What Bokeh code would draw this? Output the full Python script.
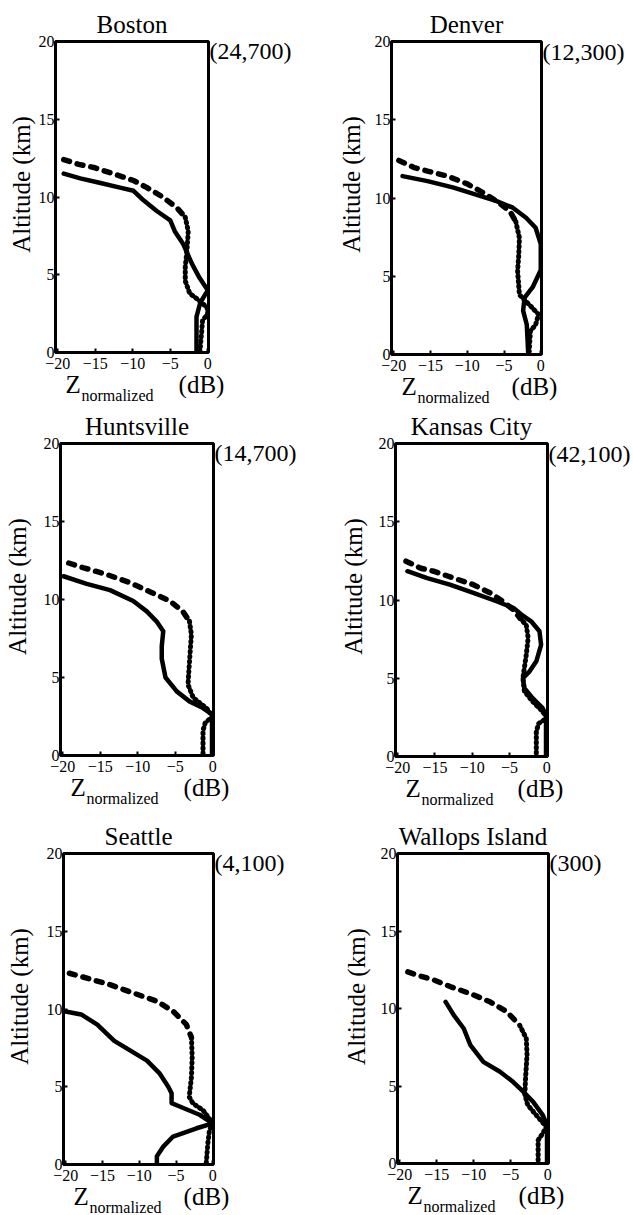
from bokeh.plotting import figure
from bokeh.models import Range1d, FixedTicker, LinearAxis
from bokeh.layouts import column, row
from bokeh.embed import file_html
from bokeh.resources import INLINE

FONT = "Liberation Serif"

cities = ["Boston", "Denver", "Huntsville", "Kansas City", "Seattle", "Wallops Island"]
counts = ["(24,700)", "(12,300)", "(14,700)", "(42,100)", "(4,100)", "(300)"]
x_ticks = [-20, -15, -10, -5, 0]
y_ticks = [0, 5, 10, 15, 20]
y_title = "Altitude (km)"
x_title = ["Z", "normalized", "(dB)"]

# ---- data: Z normalized (dB) vs altitude (km) ----
boston_solid_z = [-19.2, -17.0, -14.3, -11.7, -9.9, -8.6, -6.8, -5.0, -4.4, -3.3, -2.1, -1.1, 0.0, -1.0, -1.5, -1.5, -1.5]
boston_solid_alt = [11.5, 11.2, 10.9, 10.6, 10.4, 9.8, 9.1, 8.5, 7.8, 7.0, 5.7, 4.8, 4.0, 3.2, 2.3, 1.0, 0.0]
boston_dash_z = [-19.2, -17.2, -15.2, -12.6, -9.9, -8.1, -6.0, -4.1, -3.0, -2.6, -2.8, -3.0, -3.0, -2.4, -1.3, -0.1, 0.0, -0.7, -0.8, -1.05]
boston_dash_alt = [12.4, 12.1, 11.9, 11.5, 11.06, 10.6, 10.0, 9.3, 8.7, 7.8, 6.4, 5.5, 4.6, 3.8, 3.4, 2.9, 2.5, 2.05, 1.4, 0.0]

denver_solid_z = [-18.8, -15.4, -11.85, -8.7, -6.0, -3.8, -2.0, -0.7, 0.0, 0.0, -1.1, -2.2, -2.4, -1.9, -1.7]
denver_solid_alt = [11.4, 11.08, 10.66, 10.2, 9.8, 9.38, 8.74, 8.1, 7.05, 5.4, 4.3, 3.64, 2.8, 1.9, 0.0]
denver_dash_z = [-19.3, -17.2, -15.4, -12.7, -10.0, -7.8, -6.0, -4.2, -3.4, -2.9, -3.0, -3.15, -2.9, -1.6, -0.3, -0.7, -1.4, -1.6]
denver_dash_alt = [12.4, 11.94, 11.72, 11.4, 10.9, 10.33, 9.8, 9.16, 8.5, 7.45, 6.3, 5.33, 3.82, 3.2, 2.56, 1.9, 1.5, 0.0]

huntsville_solid_z = [-19.9, -16.8, -13.7, -10.6, -8.8, -7.5, -6.6, -6.8, -6.8, -6.3, -4.8, -3.1, -1.3, 0.0, -0.1, -0.1]
huntsville_solid_alt = [11.49, 11.0, 10.6, 9.9, 9.24, 8.6, 7.96, 7.0, 6.2, 5.0, 4.11, 3.47, 3.04, 2.6, 2.0, 0.0]
huntsville_dash_z = [-19.2, -17.2, -14.1, -11.0, -8.4, -5.7, -4.0, -3.1, -2.85, -3.1, -3.3, -2.6, -0.85, 0.0, -1.0, -1.3, -1.3]
huntsville_dash_alt = [12.34, 12.03, 11.6, 11.07, 10.5, 9.9, 9.24, 8.6, 7.74, 6.03, 4.55, 3.7, 3.04, 2.5, 2.1, 1.6, 0.0]

kc_solid_z = [-18.7, -16.05, -13.0, -9.85, -6.75, -4.5, -3.4, -2.1, -0.98, -0.76, -1.4, -2.3, -3.2, -3.0, -1.9, -0.55, 0.0, -0.1, -0.1]
kc_solid_alt = [11.84, 11.4, 10.98, 10.45, 9.92, 9.5, 9.07, 8.64, 8.0, 7.14, 6.08, 5.44, 5.0, 4.37, 3.73, 3.09, 2.56, 2.0, 0.0]
kc_dash_z = [-18.9, -16.9, -15.2, -12.5, -9.85, -7.6, -5.9, -4.5, -3.6, -2.75, -2.5, -2.75, -3.2, -3.0, -1.9, -0.55, 0.0, -1.1, -1.4, -1.4]
kc_dash_alt = [12.48, 12.03, 11.84, 11.4, 10.98, 10.45, 9.92, 9.38, 8.85, 8.4, 7.57, 6.5, 5.0, 4.16, 3.52, 2.88, 2.45, 2.1, 1.6, 0.0]

seattle_solid_z = [-20.2, -17.9, -15.7, -13.4, -11.2, -8.95, -7.2, -6.05, -5.6, -5.6, -4.5, -1.8, 0.0, -2.2, -5.4, -6.7, -7.6, -7.6]
seattle_solid_alt = [9.86, 9.65, 9.0, 7.95, 7.32, 6.68, 5.84, 5.0, 4.58, 3.95, 3.73, 3.2, 2.65, 2.33, 1.8, 1.17, 0.53, 0.0]
seattle_dash_z = [-19.5, -17.0, -13.9, -10.75, -7.6, -5.4, -3.6, -2.9, -2.8, -2.9, -3.2, -2.7, -1.35, 0.0, -0.45, -0.67, -0.9]
seattle_dash_alt = [12.3, 11.97, 11.55, 11.02, 10.5, 9.86, 9.01, 8.17, 6.9, 5.63, 4.35, 3.93, 3.5, 2.65, 2.2, 1.36, 0.0]

wallops_solid_z = [-13.8, -12.7, -11.35, -10.45, -8.7, -6.45, -4.7, -3.3, -2.0, -0.67, 0.0, -0.1, -0.1]
wallops_solid_alt = [10.43, 9.57, 8.71, 7.63, 6.56, 5.92, 5.27, 4.63, 3.99, 3.12, 2.37, 1.8, 0.0]
wallops_dash_z = [-18.9, -17.6, -15.35, -13.1, -10.45, -7.8, -5.55, -3.8, -2.9, -2.8, -3.0, -3.1, -2.7, -1.55, -0.2, -0.6, -1.3, -1.3]
wallops_dash_alt = [12.36, 12.15, 11.83, 11.4, 10.96, 10.43, 9.8, 8.92, 8.07, 7.0, 5.5, 4.45, 3.76, 3.12, 2.37, 2.0, 1.5, 0.0]

series = {
    "Boston": (boston_solid_z, boston_solid_alt, boston_dash_z, boston_dash_alt),
    "Denver": (denver_solid_z, denver_solid_alt, denver_dash_z, denver_dash_alt),
    "Huntsville": (huntsville_solid_z, huntsville_solid_alt, huntsville_dash_z, huntsville_dash_alt),
    "Kansas City": (kc_solid_z, kc_solid_alt, kc_dash_z, kc_dash_alt),
    "Seattle": (seattle_solid_z, seattle_solid_alt, seattle_dash_z, seattle_dash_alt),
    "Wallops Island": (wallops_solid_z, wallops_solid_alt, wallops_dash_z, wallops_dash_alt),
}

# ---- layout (pixels): border_left, border_top, frame_w, frame_h, border_right, border_bottom, ylabel_dx
geom = {
    "Boston": (55, 41, 153, 311, 112, 53, 31),
    "Denver": (71, 37, 150, 313, 84, 55, 37),
    "Huntsville": (60, 37, 153, 312, 107, 56, 40),
    "Kansas City": (75, 36, 152, 313, 84, 56, 39),
    "Seattle": (63, 41, 150, 311, 107, 53, 41),
    "Wallops Island": (77, 38, 151, 310, 84, 57, 38),
}

X0, X1 = -20.3, 0.1
Y0, Y1 = 0, 20


def split_at(z, a, level=9.0):
    k = next(i for i, v in enumerate(a) if v < level)
    return (z[:k + 1], a[:k + 1]), (z[k:], a[k:])


def text_axis(p, side, ticks, labels, size, standoff, orientation="horizontal"):
    ticks = [round(t, 3) for t in ticks]
    ax = LinearAxis(ticker=FixedTicker(ticks=ticks),
                    major_label_overrides={t: s for t, s in zip(ticks, labels)},
                    major_label_standoff=standoff, major_label_text_font=FONT,
                    major_label_text_font_size=size, major_label_text_color="black",
                    axis_line_color=None, major_tick_line_color=None, minor_tick_line_color=None,
                    major_tick_in=0, major_tick_out=0, major_label_orientation=orientation)
    p.add_layout(ax, side)
    return ax


def make_panel(city, count):
    sz, sa, dz, da = series[city]
    bl, bt, fw, fh, br, bb, ylx = geom[city]
    p = figure(frame_width=fw, frame_height=fh,
               x_range=Range1d(X0, X1), y_range=Range1d(Y0, Y1),
               output_backend="svg", toolbar_location=None,
               min_border_left=bl, min_border_right=br,
               min_border_top=bt, min_border_bottom=bb,
               background_fill_color="white", border_fill_color="white")
    p.title.text = city
    p.title.align = "center"
    p.title.text_font = FONT
    p.title.text_font_size = "25px"
    p.title.text_font_style = "normal"
    p.title.text_color = "black"
    p.title.standoff = 8
    p.xgrid.visible = False
    p.ygrid.visible = False
    p.outline_line_color = "black"
    p.outline_line_width = 3
    p.outline_line_alpha = 1.0
    for ax in (p.xaxis[0], p.yaxis[0]):
        ax.axis_line_color = None
        ax.major_tick_in = 4
        ax.major_tick_out = 0
        ax.major_tick_line_width = 2
        ax.major_tick_line_color = "black"
        ax.minor_tick_line_color = None
        ax.major_label_text_font = FONT
        ax.major_label_text_font_size = "16px"
        ax.major_label_text_color = "black"
    p.xaxis.ticker = FixedTicker(ticks=x_ticks)
    p.yaxis.ticker = FixedTicker(ticks=y_ticks)
    p.xaxis.major_label_standoff = 5
    p.yaxis.major_label_standoff = 1

    px_x = (X1 - X0) / fw   # data units per pixel (x)
    px_y = (Y1 - Y0) / fh   # data units per pixel (y)

    # station count beside the top-right corner
    text_axis(p, "right", [Y1 - 10 * px_y], [count], "24px", 1)
    # y-axis title
    text_axis(p, "left", [Y1 - 143 * px_y], [y_title], "25px", ylx - 31, "parallel")
    # x-axis title: Z ... (dB), then subscript
    text_axis(p, "below", [X0 + 17.6 * px_x, X1 - 7 * px_x], [x_title[0], x_title[2]], "25px", -1)
    text_axis(p, "below", [X0 + 62 * px_x], [x_title[1]], "16px", -14)

    # curves
    p.line(sz, sa, line_color="black", line_width=4.5, line_join="round", line_cap="round")
    (uz, ua), (lz, la) = split_at(dz, da)
    p.line(uz, ua, line_color="black", line_width=5.5, line_dash="6 8", line_cap="round")
    p.line(lz, la, line_color="black", line_width=5, line_dash="1 4", line_cap="round")
    return p


panels = [make_panel(c, n) for c, n in zip(cities, counts)]
layout = column(row(panels[0], panels[1]), row(panels[2], panels[3]), row(panels[4], panels[5]))

open("out.html", "w").write(file_html(layout, INLINE))
